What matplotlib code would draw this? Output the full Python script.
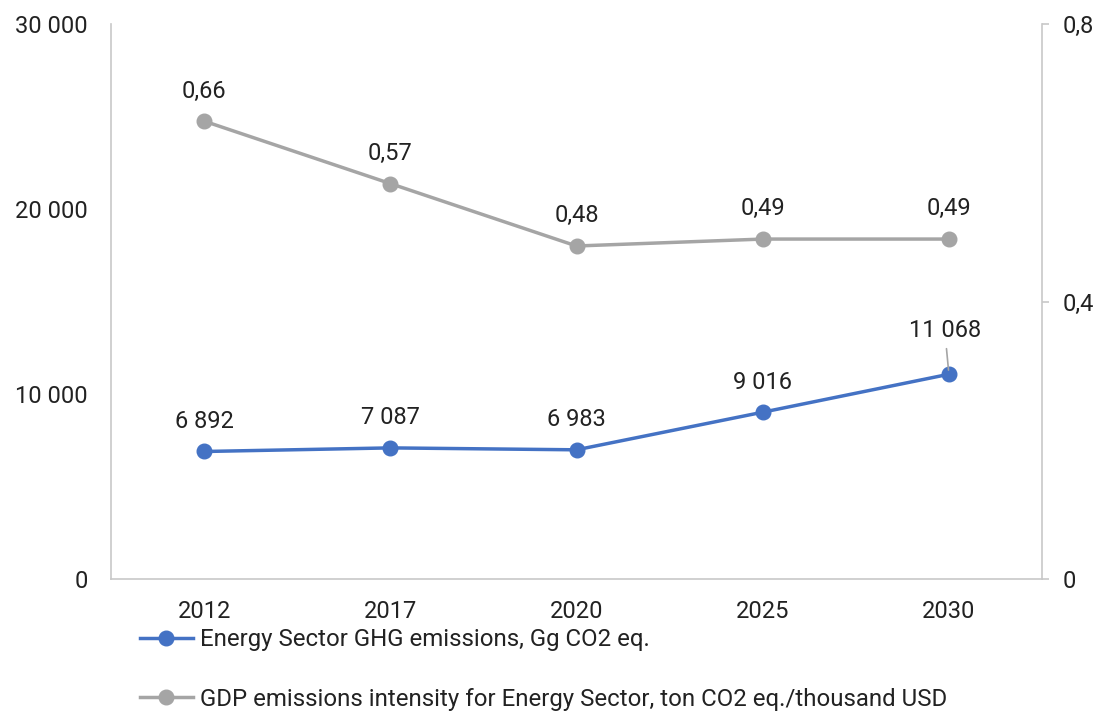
import matplotlib
matplotlib.use("Agg")
import matplotlib.pyplot as plt
from matplotlib.ticker import FuncFormatter

plt.rcParams['font.family'] = ['Roboto', 'DejaVu Sans']

years = ["2012", "2017", "2020", "2025", "2030"]
ghg = [6892, 7087, 6983, 9016, 11068]
intensity = [0.66, 0.57, 0.48, 0.49, 0.49]
left_ticks = [0, 10000, 20000, 30000]
right_ticks = [0, 0.4, 0.8]
label_ghg = "Energy Sector GHG emissions, Gg CO2 eq."
label_int = "GDP emissions intensity for Energy Sector, ton CO2 eq./thousand USD"

BLUE = "#4472C4"
GRAY = "#A5A5A5"
SPINE = "#C8C8C8"
TXT = "#222222"
FS = 17

fig = plt.figure(figsize=(11.01, 7.12), dpi=100)
ax = fig.add_axes([111/1101, 1-579/712, (1042-111)/1101, (579-24)/712])
ax2 = ax.twinx()

x = list(range(len(years)))
l1, = ax.plot(x, ghg, color=BLUE, lw=2.5, marker='o', ms=10.5, zorder=3)
l2, = ax2.plot(x, intensity, color=GRAY, lw=2.5, marker='o', ms=10.5, zorder=3)

ax.set_xlim(-0.5, len(years) - 0.5)
ax.set_ylim(0, 30000)
ax2.set_ylim(0, 0.8)
ax.set_xticks(x)
ax.set_xticklabels(years)
ax.set_yticks(left_ticks)
ax2.set_yticks(right_ticks)

def fmt_left(v, p):
    return f"{int(v):,}".replace(",", " ")

def fmt_right(v, p):
    s = f"{v:.1f}".rstrip('0').rstrip('.')
    return s.replace(".", ",")

ax.yaxis.set_major_formatter(FuncFormatter(fmt_left))
ax2.yaxis.set_major_formatter(FuncFormatter(fmt_right))

for a in (ax, ax2):
    for s in a.spines.values():
        s.set_visible(False)
ax.spines['left'].set_visible(True)
ax.spines['bottom'].set_visible(True)
ax2.spines['right'].set_visible(True)
for s in (ax.spines['left'], ax.spines['bottom'], ax2.spines['right']):
    s.set_color(SPINE)
    s.set_linewidth(1.2)

ax.tick_params(axis='y', length=0, pad=16.5, labelsize=FS, labelcolor=TXT)
ax.tick_params(axis='x', length=0, pad=15, labelsize=FS, labelcolor=TXT)
ax2.tick_params(axis='y', length=5, width=1.2, color=SPINE, pad=10, labelsize=FS, labelcolor=TXT)

for i, v in enumerate(ghg):
    txt = f"{v:,}".replace(",", " ")
    if i == len(ghg) - 1:
        ax.annotate(txt, (i, v), xytext=(-3, 27), textcoords='offset points',
                    ha='center', va='baseline', fontsize=FS, color=TXT,
                    arrowprops=dict(arrowstyle='-', color=GRAY, lw=1.2, shrinkA=3, shrinkB=3))
    else:
        ax.annotate(txt, (i, v), xytext=(0, 17), textcoords='offset points',
                    ha='center', va='baseline', fontsize=FS, color=TXT)

for i, v in enumerate(intensity):
    txt = f"{v:.2f}".replace(".", ",")
    ax2.annotate(txt, (i, v), xytext=(0, 17), textcoords='offset points',
                 ha='center', va='baseline', fontsize=FS, color=TXT)

leg = fig.legend([l1, l2], [label_ghg, label_int], loc='upper left',
                 bbox_to_anchor=(140/1101, 1-628/712), frameon=False,
                 fontsize=17.3, handlelength=2.2, handletextpad=0.3,
                 labelspacing=1.52, borderaxespad=0, borderpad=0)
for t in leg.get_texts():
    t.set_color(TXT)

fig.savefig("out.png", dpi=100)
